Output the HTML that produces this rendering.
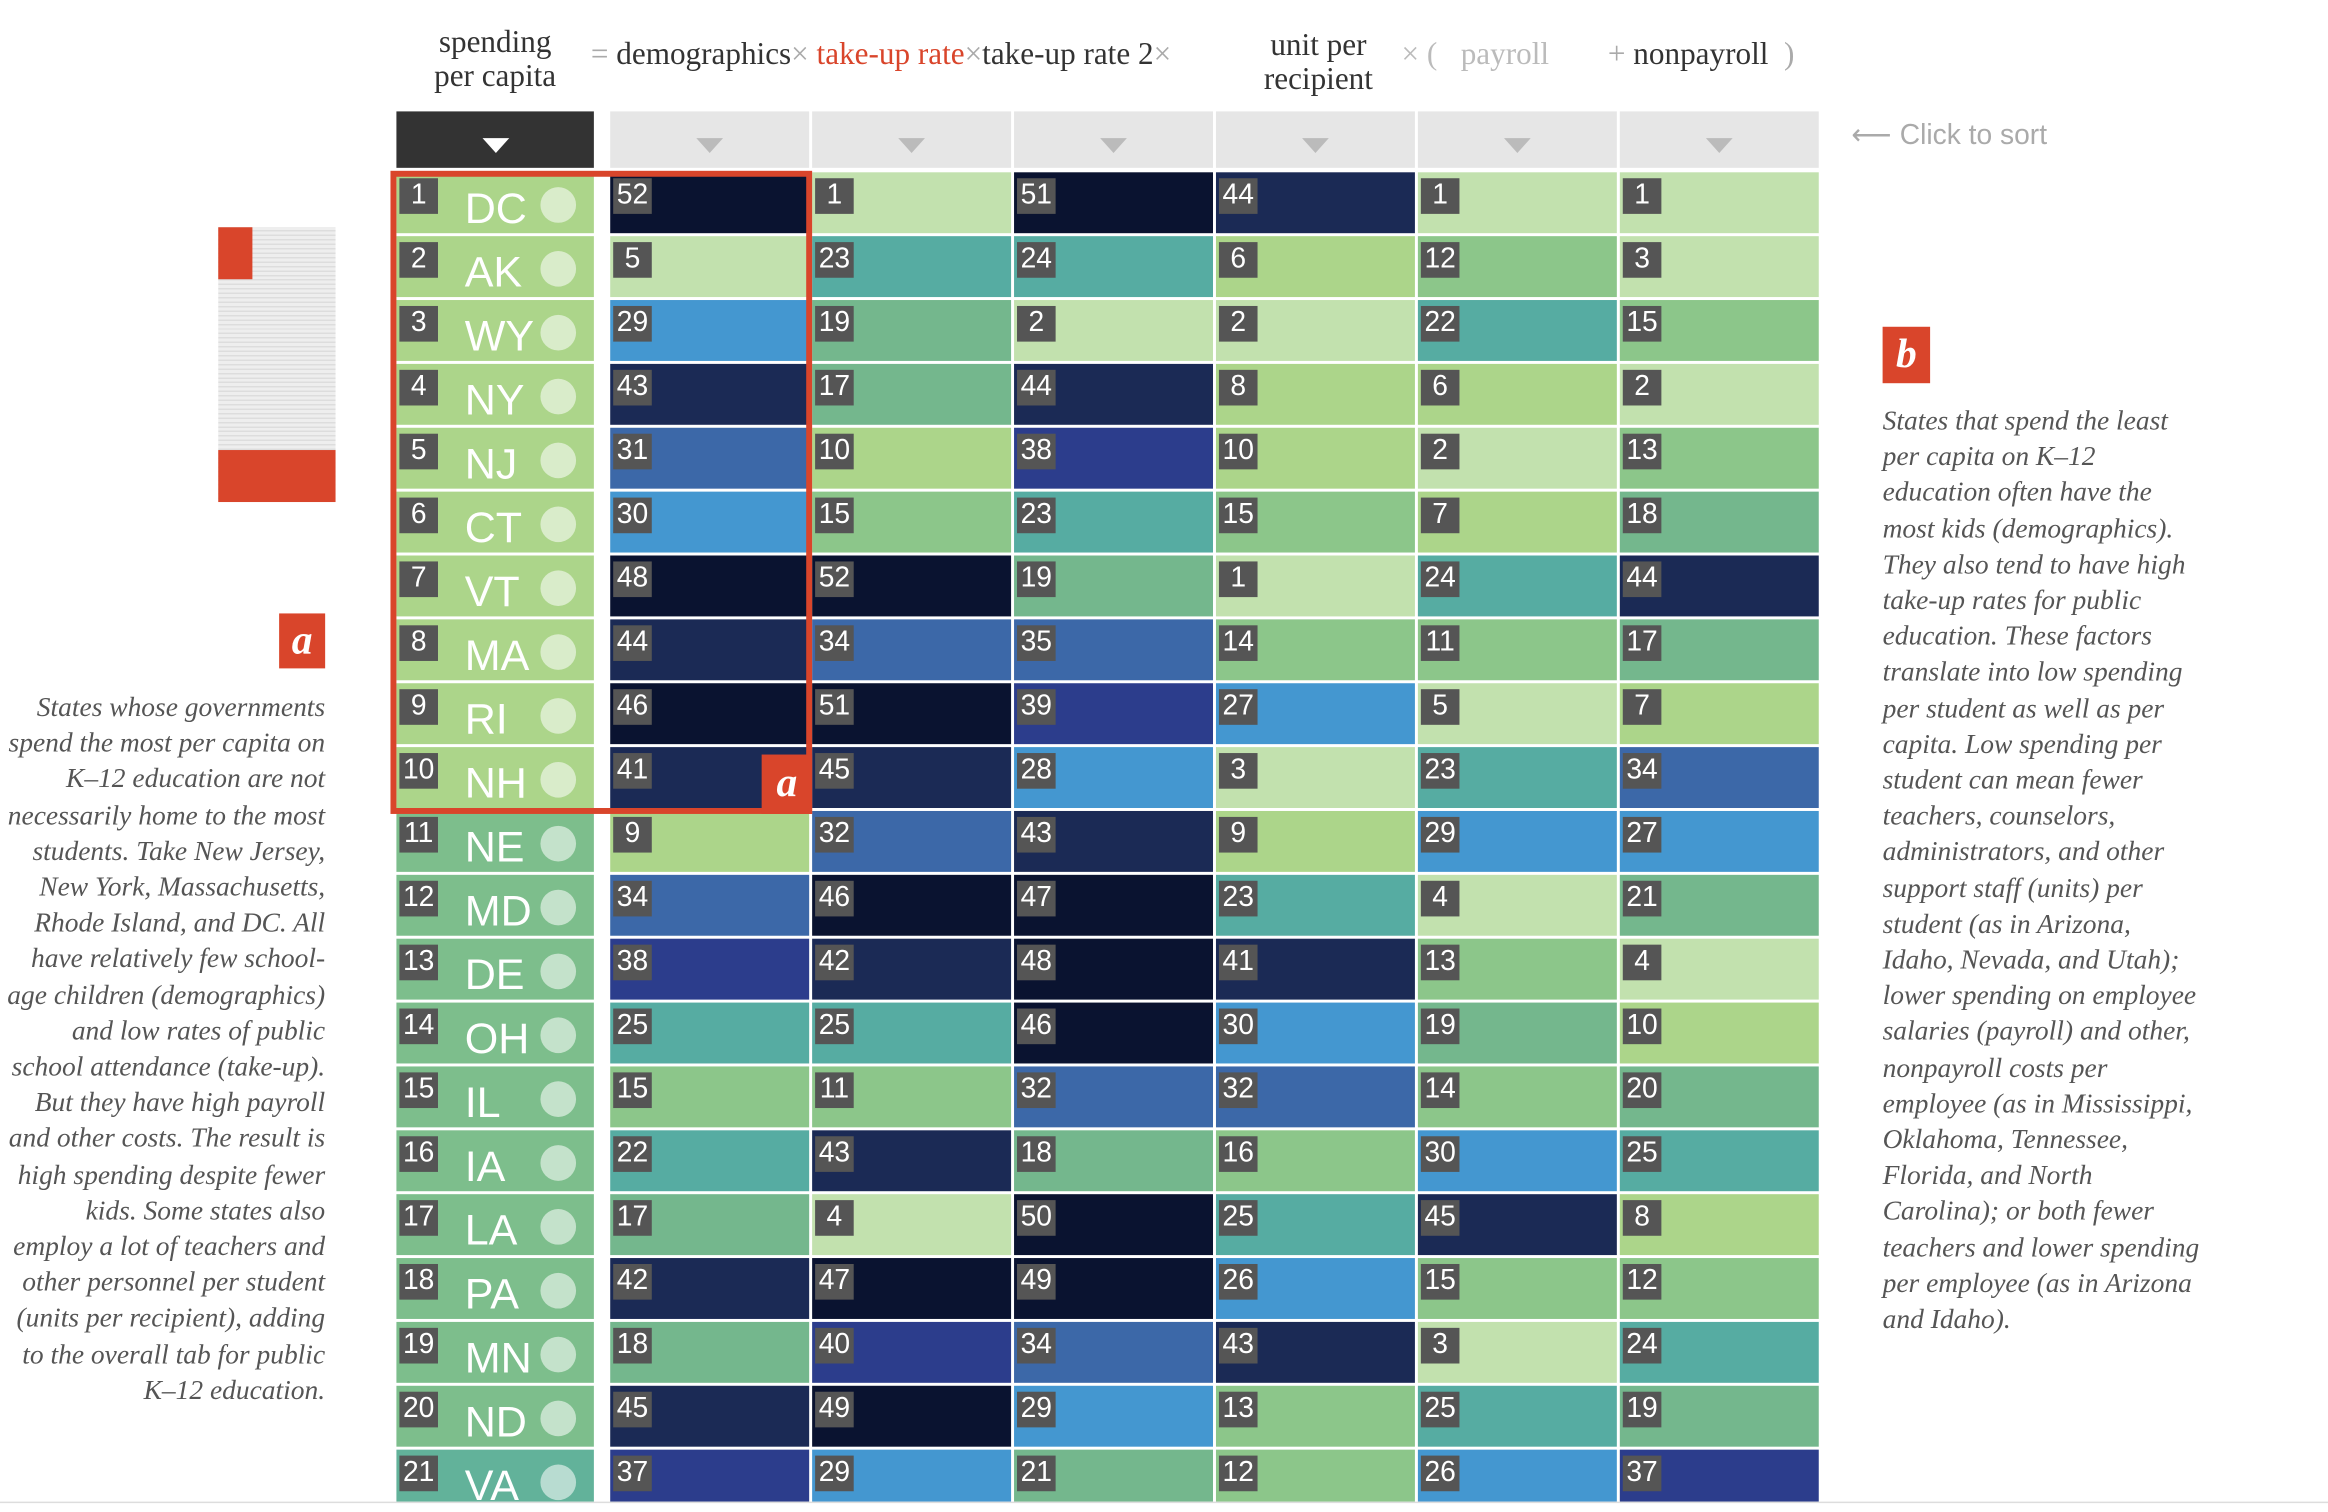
<!DOCTYPE html>
<html><head><meta charset="utf-8">
<style>
html,body{margin:0;padding:0;background:#fff;overflow:hidden;width:2328px;height:1512px}
#wrap{position:absolute;left:0;top:0;width:1568px;height:1018px;transform:scale(1.4847,1.4853);transform-origin:0 0;font-family:"Liberation Serif",serif}
.abs{position:absolute}
.hdr{position:absolute;font-size:21px;color:#333;line-height:23px;text-align:center;font-weight:500}
.side{position:absolute;font-style:italic;font-size:18.5px;line-height:24.2px;color:#555}
.badge{position:absolute;background:#d9452b;color:#fff;font-style:italic;font-weight:bold;font-size:28px;text-align:center}
.cell{position:absolute;height:41px}
.num{position:absolute;left:2px;top:4px;background:#555;color:#fff;font-family:"Liberation Sans",sans-serif;font-size:19px;line-height:24px;min-width:24px;padding:0 1px;text-align:center}
.st{position:absolute;left:46px;top:9px;color:#fff;font-family:"Liberation Sans",sans-serif;font-size:29px}
.dot{position:absolute;left:97px;top:10px;width:24px;height:24px;border-radius:50%;background:rgba(255,255,255,0.55)}
.sort{position:absolute;top:75px;height:38px;background:#e6e6e6}
.tri{position:absolute;left:50%;top:18px;margin-left:-9px;width:0;height:0;border-left:9px solid transparent;border-right:9px solid transparent;border-top:10px solid #bbb}
</style></head><body>
<div id="wrap">
<div class="hdr" style="left:267px;top:17px;width:133px">spending<br>per capita</div>
<div class="hdr" style="left:398px;top:25px;white-space:nowrap;text-align:left"><span style="color:#aaa">=</span> demographics<span style="color:#aaa">×</span> <span style="color:#d9452b">take-up rate</span><span style="color:#aaa">×</span>take-up rate 2<span style="color:#aaa">×</span></div>
<div class="hdr" style="left:836px;top:19px;width:104px">unit per<br>recipient</div>
<div class="hdr" style="left:944px;top:25px;white-space:nowrap;text-align:left;color:#bbb">× (&nbsp;&nbsp;&nbsp;payroll</div>
<div class="hdr" style="left:1083px;top:25px;white-space:nowrap;text-align:left"><span style="color:#aaa">+</span> nonpayroll <span style="color:#aaa">&nbsp;)</span></div>
<div class="abs" style="left:1247px;top:80px;font-family:'Liberation Sans',sans-serif;font-size:19px;color:#aaa">⟵ Click to sort</div>

<div class="abs" style="left:147px;top:153px;width:79px;height:185px;background:repeating-linear-gradient(#eee 0 2px,#ddd 2px 3px)"></div>
<div class="abs" style="left:147px;top:153px;width:23px;height:35px;background:#d9452b"></div>
<div class="abs" style="left:147px;top:303px;width:79px;height:35px;background:#d9452b"></div>

<div class="badge" style="left:188px;top:413px;width:31px;height:37px;line-height:37px">a</div>
<div class="side" style="left:0;top:465px;width:219px;text-align:right">States whose governments<br>spend the most per capita on<br>K–12 education are not<br>necessarily home to the most<br>students. Take New Jersey,<br>New York, Massachusetts,<br>Rhode Island, and DC. All<br>have relatively few school-<br>age children (demographics)<br>and low rates of public<br>school attendance (take-up).<br>But they have high payroll<br>and other costs. The result is<br>high spending despite fewer<br>kids. Some states also<br>employ a lot of teachers and<br>other personnel per student<br>(units per recipient), adding<br>to the overall tab for public<br>K–12 education.</div>
<div class="badge" style="left:1268px;top:220px;width:32px;height:38px;line-height:38px">b</div>
<div class="side" style="left:1268px;top:272px;width:240px">States that spend the least<br>per capita on K–12<br>education often have the<br>most kids (demographics).<br>They also tend to have high<br>take-up rates for public<br>education. These factors<br>translate into low spending<br>per student as well as per<br>capita. Low spending per<br>student can mean fewer<br>teachers, counselors,<br>administrators, and other<br>support staff (units) per<br>student (as in Arizona,<br>Idaho, Nevada, and Utah);<br>lower spending on employee<br>salaries (payroll) and other,<br>nonpayroll costs per<br>employee (as in Mississippi,<br>Oklahoma, Tennessee,<br>Florida, and North<br>Carolina); or both fewer<br>teachers and lower spending<br>per employee (as in Arizona<br>and Idaho).</div>

<div id="grid"></div>
<div class="abs" style="left:263px;top:115px;width:276px;height:425px;border:4px solid #d9452b"></div>
<div class="badge" style="left:513px;top:508px;width:34px;height:40px;line-height:40px">a</div>
<div class="abs" style="left:0;top:1011px;width:1568px;height:1px;background:#ddd"></div>
</div>
<script>
const states=["DC","AK","WY","NY","NJ","CT","VT","MA","RI","NH","NE","MD","DE","OH","IL","IA","LA","PA","MN","ND","VA"];
const columns=["demographics","take-up rate","take-up rate 2","unit per recipient","payroll","nonpayroll"];
const demographics=[52,5,29,43,31,30,48,44,46,41,9,34,38,25,15,22,17,42,18,45,37];
const takeUp=[1,23,19,17,10,15,52,34,51,45,32,46,42,25,11,43,4,47,40,49,29];
const takeUp2=[51,24,2,44,38,23,19,35,39,28,43,47,48,46,32,18,50,49,34,29,21];
const unitPer=[44,6,2,8,10,15,1,14,27,3,9,23,41,30,32,16,25,26,43,13,12];
const payroll=[1,12,22,6,2,7,24,11,5,23,29,4,13,19,14,30,45,15,3,25,26];
const nonpayroll=[1,3,15,2,13,18,44,17,7,34,27,21,4,10,20,25,8,12,24,19,37];
const series=[demographics,takeUp,takeUp2,unitPer,payroll,nonpayroll];
function color(v){
  if(v<=5)return "#c2e1ae";
  if(v<=10)return "#acd58a";
  if(v<=16)return "#8cc68a";
  if(v<=21)return "#74b78d";
  if(v<=25)return "#56aca2";
  if(v<=30)return "#4497d0";
  if(v<=36)return "#3c68a8";
  if(v<=40)return "#2c3d8c";
  if(v<=45)return "#1b2a55";
  return "#0a1330";
}
function firstColor(v){ if(v<=10)return "#acd58a"; if(v<=20)return "#7dbe8c"; return "#62b29a";}
const g=document.getElementById('grid');
const colX=i=>411+136*i, rowY=i=>116+43*i;
function mk(cls,l,t,w,h,bg){const d=document.createElement('div');d.className=cls;d.style.left=l+'px';d.style.top=t+'px';d.style.width=w+'px';if(h)d.style.height=h+'px';if(bg)d.style.background=bg;g.appendChild(d);return d;}
const sh=mk('sort',267,75,133,38,'#333');


const t0=document.createElement('div');t0.className='tri';t0.style.borderTopColor='#fff';sh.appendChild(t0);
columns.forEach((c,j)=>{
  const s=mk('sort',colX(j),75,134,38);
  
  
  const t=document.createElement('div');t.className='tri';s.appendChild(t);
});
states.forEach((st,i)=>{
  const y=rowY(i);
  const h=Math.min(41,1011-y);
  const c=mk('cell',267,y,133,h,firstColor(i+1));
  
  
  const n=document.createElement('div');n.className='num';n.textContent=i+1;c.appendChild(n);
  const s=document.createElement('div');s.className='st';s.textContent=st;c.appendChild(s);
  const d=document.createElement('div');d.className='dot';c.appendChild(d);
  c.style.overflow='hidden';
  series.forEach((arr,j)=>{
    const v=arr[i];
    const e=mk('cell',colX(j),y,134,h,color(v));
    
    
    const nn=document.createElement('div');nn.className='num';nn.textContent=v;e.appendChild(nn);
    e.style.overflow='hidden';
  });
});
</script>
</body></html>
